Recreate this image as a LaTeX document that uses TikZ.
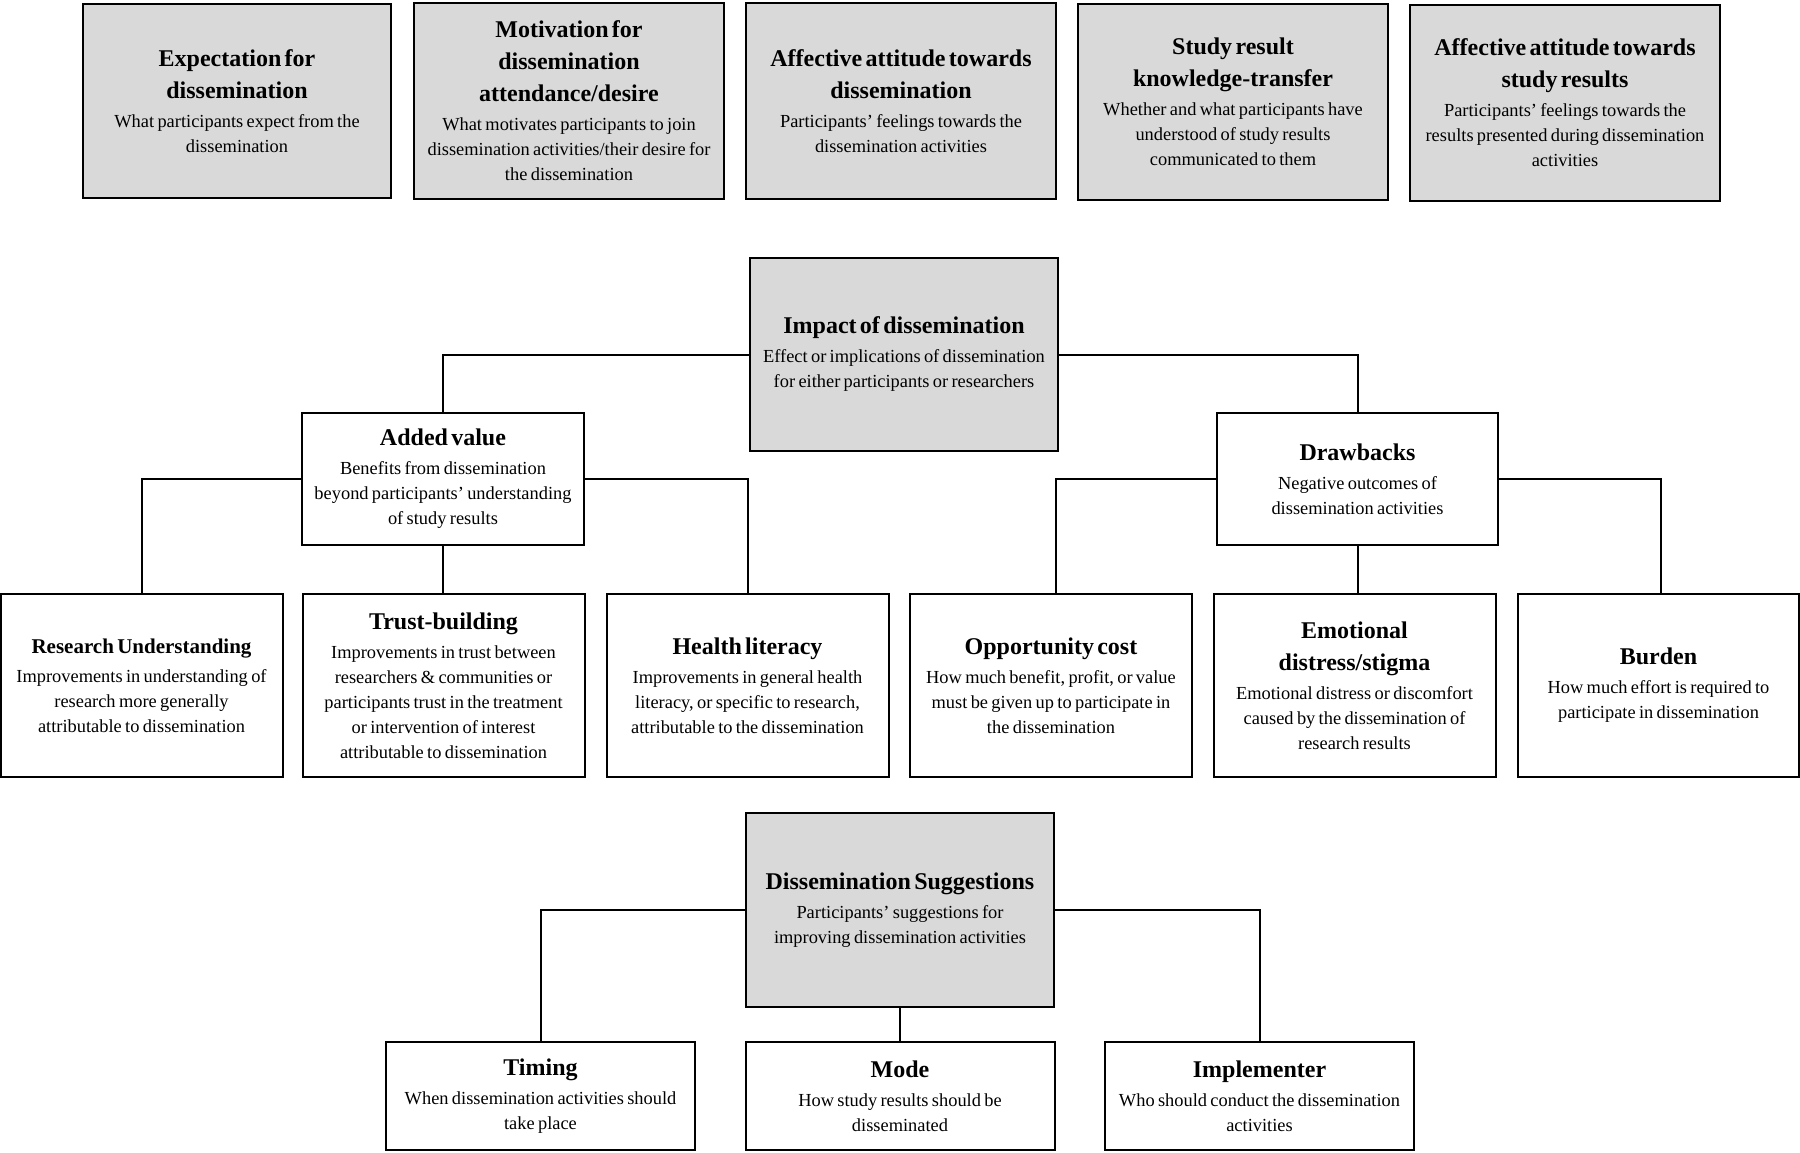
\documentclass[tikz,border=0pt]{standalone}
\usepackage{fontspec}
\setmainfont{Liberation Serif}
\definecolor{boxgray}{HTML}{D9D9D9}
\newcommand\tfont{\fontsize{24}{32}\selectfont\bfseries}
\newcommand\tsfont{\fontsize{21}{28}\selectfont\bfseries}
\newcommand\bfont{\fontsize{18.4}{25}\selectfont}
\tikzset{
  box/.style={draw=black, line width=2pt, align=center, inner xsep=4pt, inner ysep=0pt},
  gbox/.style={box, fill=boxgray, line width=2.3pt},
  wbox/.style={box, fill=white},
  conn/.style={line width=2pt}
}
% name, style, cx, cy, w, h, text width, title, body
\newcommand\bx[9]{%
  \node[#2, minimum width=#5pt, minimum height=#6pt, text width=#7pt] (#1) at (#3,#4)
    {{\tfont #8\par}\vspace{4pt}{\bfont #9\par}};}
\begin{document}
\begin{tikzpicture}[x=1pt, y=-1pt]
\useasboundingbox (0,0) rectangle (1800,1152);
% top row
\bx{b1}{gbox}{237}{101}{308}{194}{296}{Expectation for\\dissemination}{What participants expect from the\\dissemination}
\bx{b2}{gbox}{569}{101}{310}{196}{298}{Motivation for\\dissemination\\attendance/desire}{What motivates participants to join\\dissemination activities/their desire for\\the dissemination}
\bx{b3}{gbox}{901}{101}{310}{196}{298}{Affective attitude towards\\dissemination}{Participants’ feelings towards the\\dissemination activities}
\bx{b4}{gbox}{1233}{102}{310}{196}{298}{Study result\\knowledge-transfer}{Whether and what participants have\\understood of study results\\communicated to them}
\bx{b5}{gbox}{1565}{103}{310}{196}{298}{Affective attitude towards\\study results}{Participants’ feelings towards the\\results presented during dissemination\\activities}
% impact
\bx{imp}{gbox}{904}{354.5}{308}{193}{296}{Impact of dissemination}{Effect or implications of dissemination\\for either participants or researchers}
\bx{add}{wbox}{443}{479}{282}{132}{270}{Added value}{Benefits from dissemination\\beyond participants’ understanding\\of study results}
\bx{drw}{wbox}{1357.5}{479}{281}{132}{269}{Drawbacks}{Negative outcomes of\\dissemination activities}
% third row
\node[wbox, minimum width=282pt, minimum height=183pt, text width=270pt] (ru) at (141.5,685.5)
  {{\tsfont Research Understanding\par}\vspace{4pt}{\bfont Improvements in understanding of\\research more generally\\attributable to dissemination\par}};
\bx{tb}{wbox}{443.5}{685.5}{282}{183}{270}{Trust-building}{Improvements in trust between\\researchers \& communities or\\participants trust in the treatment\\or intervention of interest\\attributable to dissemination}
\bx{hl}{wbox}{747.5}{685.5}{282}{183}{270}{Health literacy}{Improvements in general health\\literacy, or specific to research,\\attributable to the dissemination}
\bx{oc}{wbox}{1051}{685.5}{282}{183}{270}{Opportunity cost}{How much benefit, profit, or value\\must be given up to participate in\\the dissemination}
\bx{ed}{wbox}{1354.5}{685.5}{282}{183}{270}{Emotional\\distress/stigma}{Emotional distress or discomfort\\caused by the dissemination of\\research results}
\bx{bu}{wbox}{1658.5}{685.5}{281}{183}{269}{Burden}{How much effort is required to\\participate in dissemination}
% suggestions
\bx{sug}{gbox}{900}{910}{308}{194}{296}{Dissemination Suggestions}{Participants’ suggestions for\\improving dissemination activities}
\bx{tim}{wbox}{540.5}{1096}{309}{108}{297}{Timing}{When dissemination activities should\\take place}
\bx{mod}{wbox}{900}{1096}{309}{108}{297}{Mode}{How study results should be\\disseminated}
\bx{imq}{wbox}{1259.5}{1096}{309}{108}{297}{Implementer}{Who should conduct the dissemination\\activities}
% connectors
\draw[conn] (imp.west) -| (add.north);
\draw[conn] (imp.east) -| (drw.north);
\draw[conn] (add.west) -| (ru.north);
\draw[conn] (add.east) -| (hl.north);
\draw[conn] (add.south) -- (add.south |- tb.north);
\draw[conn] (drw.west) -| ([xshift=5pt]oc.north);
\draw[conn] (drw.east) -| ([xshift=2.5pt]bu.north);
\draw[conn] (drw.south) -- (drw.south |- ed.north);
\draw[conn] (sug.west) -| (tim.north);
\draw[conn] (sug.east) -| (imq.north);
\draw[conn] (sug.south) -- (mod.north);
\end{tikzpicture}
\end{document}
